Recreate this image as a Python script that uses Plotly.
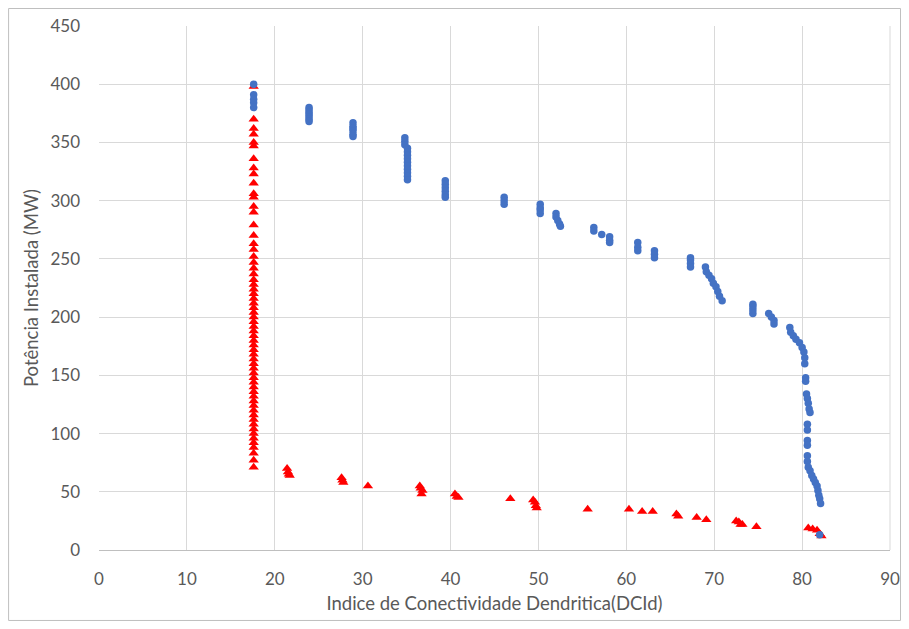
import plotly.graph_objects as go

# serie azul (circulos)
blue_x = [17.6, 17.6, 17.6, 17.6, 17.6,
          23.9, 23.9, 23.9, 23.9, 23.9, 23.9, 23.9,
          28.9, 28.9, 28.9, 28.9, 28.9, 28.9,
          34.8, 34.8, 34.8, 35.1, 35.1, 35.1, 35.1, 35.1, 35.1, 35.1, 35.1, 35.1, 35.1,
          39.4, 39.4, 39.4, 39.4, 39.4, 39.4,
          46.1, 46.1, 46.1,
          50.2, 50.2, 50.2, 50.2,
          52.0, 52.0, 52.2, 52.4, 52.5,
          56.3, 56.3, 57.2, 58.1, 58.1, 58.1,
          61.3, 61.3, 61.3, 63.2, 63.2, 63.2,
          67.3, 67.3, 67.3, 67.3,
          69.0, 69.1, 69.4, 69.7, 69.9, 70.2, 70.4, 70.6, 70.9,
          74.4, 74.4, 74.4, 74.4,
          76.2, 76.5, 76.8, 76.8,
          78.6, 78.7, 79.0, 79.3, 79.7, 80.0, 80.2, 80.3, 80.3,
          80.4, 80.4, 80.5, 80.6, 80.7, 80.8, 80.9,
          80.6, 80.6, 80.6, 80.6, 80.6, 80.6,
          80.7, 80.9, 81.1, 81.3, 81.5, 81.7, 81.8, 81.9, 82.0, 82.1,
          82.0]
blue_y = [400, 391, 387, 384, 380,
          380, 378, 376, 374, 372, 370, 368,
          367, 364, 362, 360, 357, 355,
          354, 351, 348, 345, 342, 339, 336, 333, 330, 327, 324, 321, 318,
          317, 314, 311, 308, 305, 303,
          303, 300, 297,
          297, 294, 292, 289,
          289, 286, 283, 280, 278,
          277, 274, 271, 269, 266, 264,
          264, 260, 257, 257, 254, 251,
          251, 249, 246, 243,
          243, 239, 236, 233, 229, 226, 222, 218, 214,
          211, 209, 206, 203,
          203, 200, 197, 194,
          191, 187, 184, 181, 178, 174, 170, 165, 160,
          148, 145, 134, 130, 126, 121, 118,
          108, 103, 94, 90, 81, 76,
          71, 68, 64, 61, 58, 55, 51, 47, 44, 40,
          13]

# serie vermelha (triangulos)
red_x = [17.6] * 62 + [
    21.4, 21.5, 21.6, 21.7,
    27.6, 27.7, 27.8,
    30.6,
    36.5, 36.6, 36.8, 36.7,
    40.5, 40.7, 40.9,
    46.8,
    49.4, 49.6, 49.7, 49.8,
    55.6, 60.3, 61.8, 63.0,
    65.7, 65.9, 68.0, 69.1,
    72.5, 72.8, 73.0, 73.2, 74.8,
    80.7, 81.2, 81.7, 82.0, 82.2]
red_y = [398, 370, 362, 357, 350, 347, 336, 328, 323, 315, 306, 303,
         295, 290, 279, 270, 263, 258, 252, 247, 242, 237, 232, 228,
         224, 220, 216, 212, 208, 204, 200, 196, 192, 188, 184, 180,
         176, 172, 168, 164, 160, 156, 152, 148, 144, 140, 136, 132,
         128, 124, 120, 116, 112, 108, 104, 100, 96, 92, 88, 83,
         77, 71] + [
    70, 67, 65, 64,
    62, 60, 58,
    55,
    55, 53, 51, 48,
    48, 46, 45,
    44,
    43, 41, 38, 36,
    35, 35, 33, 33,
    31, 29, 28, 26,
    25, 24, 22, 22, 20,
    19, 18, 17, 14, 12]

x_ticks = [0, 10, 20, 30, 40, 50, 60, 70, 80, 90]
y_ticks = [0, 50, 100, 150, 200, 250, 300, 350, 400, 450]

fig = go.Figure()
fig.add_trace(go.Scatter(
    x=red_x, y=red_y, mode="markers", name="vermelho",
    marker=dict(symbol="triangle-up", size=9, color="#ff0000"),
))
fig.add_trace(go.Scatter(
    x=blue_x, y=blue_y, mode="markers", name="azul",
    marker=dict(symbol="circle", size=7.5, color="#4472c4"),
))

font = "Lato, 'Open Sans', sans-serif"
# o body da pagina tem 8px de margem, por isso a figura fica 16px menor
fig.update_layout(
    width=893, height=613,
    margin=dict(l=91, r=11, t=18, b=71),
    paper_bgcolor="white", plot_bgcolor="white",
    showlegend=False,
    font=dict(family=font, size=17, color="#595959"),
    xaxis=dict(
        range=[0, 90], tickvals=x_ticks, showgrid=True, gridcolor="#d9d9d9",
        zeroline=False, showline=True, linecolor="#bfbfbf", mirror=False,
        ticks="", ticklabelstandoff=14, ticklabeloverflow="allow",
        automargin=False,
        title=dict(text="Indice de Conectividade Dendritica(DCId)", standoff=8,
                   font=dict(size=18.5, color="#595959")),
    ),
    yaxis=dict(
        range=[0, 450], tickvals=y_ticks, showgrid=True, gridcolor="#d9d9d9",
        zeroline=False, showline=False, ticks="", ticklabelstandoff=18,
        automargin=False,
        title=dict(text="Potência Instalada (MW)", standoff=6,
                   font=dict(size=18.5, color="#595959")),
    ),
    shapes=[
        dict(type="rect", xref="paper", yref="paper",
             x0=-0.1143, x1=1.0133, y0=-0.1345, y1=1.0334,
             line=dict(color="#bfbfbf", width=1), layer="below"),
        dict(type="line", xref="paper", yref="paper",
             x0=1, x1=1, y0=0, y1=1, line=dict(color="#d9d9d9", width=1)),
    ],
)

fig.write_html("out.html")
